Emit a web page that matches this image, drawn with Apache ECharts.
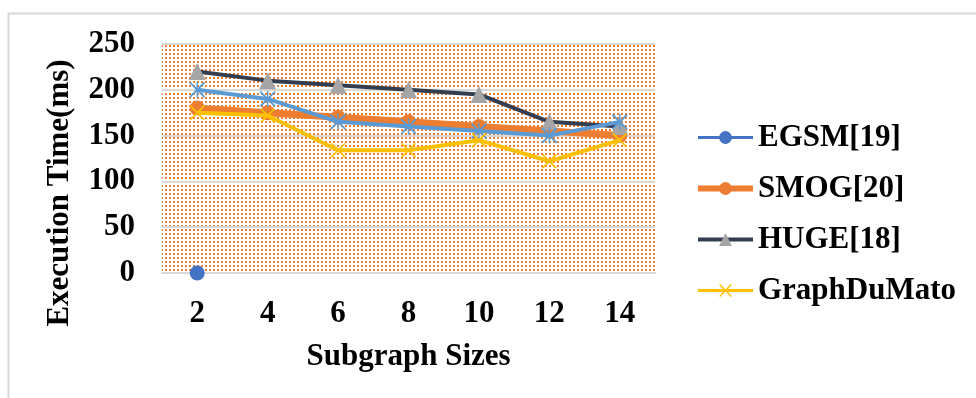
<!DOCTYPE html>
<html>
<head>
<meta charset="utf-8">
<script src="https://cdn.jsdelivr.net/npm/echarts@6/dist/echarts.min.js"></script>
<style>
  html, body { margin: 0; padding: 0; background: #fff; }
  #chart { width: 976px; height: 398px; }
</style>
</head>
<body>
<div id="chart"></div>
<script>
// Subgraph sizes on the x axis
const sizes = ['2', '4', '6', '8', '10', '12', '14'];
const yTicks = [0, 50, 100, 150, 200, 250];

// Execution time (ms) per method
const egsm = [0, null, null, null, null, null, null];
const smog = [180, 175, 170, 165, 160, 155, 150];
const huge = [220, 210, 205, 200, 195, 165, 160];
const other = [200, 190, 165, 160, 155, 150, 165];
const graphDuMato = [175, 172, 134, 134, 145, 122, 145];

const FONT = '"Liberation Serif", "Times New Roman", serif';
const FS = 31;

// Dotted fill for the plot area
function dotPattern() {
  const c = document.createElement('canvas');
  c.width = 4; c.height = 4;
  const g = c.getContext('2d');
  g.fillStyle = '#ffffff';
  g.fillRect(0, 0, 4, 4);
  g.fillStyle = '#ED7D31';
  g.fillRect(1, 1, 2, 2);
  return c;
}

// Marker shapes: a cross "x" and an asterisk
const crossPath = 'path://M0,1.6L1.6,0L20,18.4L18.4,20Z M18.4,0L20,1.6L1.6,20L0,18.4Z';
const starPath = 'path://M0,1.6L1.6,0L20,18.4L18.4,20Z M18.4,0L20,1.6L1.6,20L0,18.4Z M9.1,0L10.9,0L10.9,20L9.1,20Z';

const labelFont = { fontFamily: FONT, fontWeight: 'bold', fontSize: FS, color: '#000' };

const chart = echarts.init(document.getElementById('chart'), null, { renderer: 'canvas' });

chart.setOption({
  animation: false,
  backgroundColor: '#ffffff',
  grid: {
    left: 162, right: 321, top: 44, bottom: 125,
    show: true,
    borderWidth: 0,
    backgroundColor: { image: dotPattern(), repeat: 'repeat' }
  },
  graphic: [
    {
      type: 'rect',
      shape: { x: 8.5, y: 13.5, width: 1100, height: 600 },
      style: { fill: 'none', stroke: '#D9D9D9', lineWidth: 2 },
      silent: true
    },
    {
      type: 'text',
      x: 60, y: 193,
      rotation: Math.PI / 2,
      style: {
        text: 'Execution Time(ms)',
        font: 'bold ' + FS + 'px ' + FONT,
        fill: '#000',
        align: 'center',
        verticalAlign: 'middle'
      }
    }
  ],
  legend: {
    orient: 'vertical',
    left: 690,
    top: 117,
    itemWidth: 55,
    itemHeight: 16,
    itemGap: 20,
    data: [
      { name: 'EGSM[19]', lineStyle: { width: 3 } },
      { name: 'SMOG[20]', lineStyle: { width: 6 } },
      { name: 'HUGE[18]', lineStyle: { width: 4 } },
      { name: 'GraphDuMato', lineStyle: { width: 3 } }
    ],
    textStyle: labelFont
  },
  xAxis: {
    type: 'category',
    data: sizes,
    boundaryGap: true,
    name: 'Subgraph Sizes',
    nameLocation: 'middle',
    nameGap: 68,
    nameTextStyle: labelFont,
    axisLine: { lineStyle: { color: '#D9D9D9', width: 2 } },
    axisTick: { show: false },
    axisLabel: Object.assign({ margin: 25 }, labelFont)
  },
  yAxis: {
    type: 'value',
    min: yTicks[0],
    max: yTicks[yTicks.length - 1],
    interval: 50,
    axisLine: { show: false },
    axisTick: { show: false },
    splitLine: { lineStyle: { color: '#D9D9D9', width: 2 } },
    axisLabel: Object.assign({ margin: 27 }, labelFont)
  },
  series: [
    {
      name: 'EGSM[19]', type: 'line', data: egsm, z: 2,
      color: '#4472C4',
      lineStyle: { width: 3, color: '#4472C4' },
      symbol: 'circle', symbolSize: 15,
      itemStyle: { color: '#4472C4' }
    },
    {
      name: 'SMOG[20]', type: 'line', data: smog, z: 3,
      color: '#ED7D31',
      lineStyle: { width: 7, color: '#ED7D31' },
      symbol: 'circle', symbolSize: 15,
      itemStyle: { color: '#ED7D31' }
    },
    {
      name: 'HUGE[18]', type: 'line', data: huge, z: 4,
      color: '#333F50',
      lineStyle: { width: 4, color: '#333F50' },
      symbol: 'triangle', symbolSize: 17,
      itemStyle: { color: '#A5A5A5' }
    },
    {
      name: 'Other', type: 'line', data: other, z: 5,
      color: '#5B9BD5',
      lineStyle: { width: 4, color: '#5B9BD5' },
      symbol: starPath, symbolSize: 16,
      itemStyle: { color: '#5B9BD5' }
    },
    {
      name: 'GraphDuMato', type: 'line', data: graphDuMato, z: 6,
      color: '#FFC000',
      lineStyle: { width: 4, color: '#FFC000' },
      symbol: crossPath, symbolSize: 15,
      itemStyle: { color: '#FFC000' }
    }
  ]
});
</script>
</body>
</html>
